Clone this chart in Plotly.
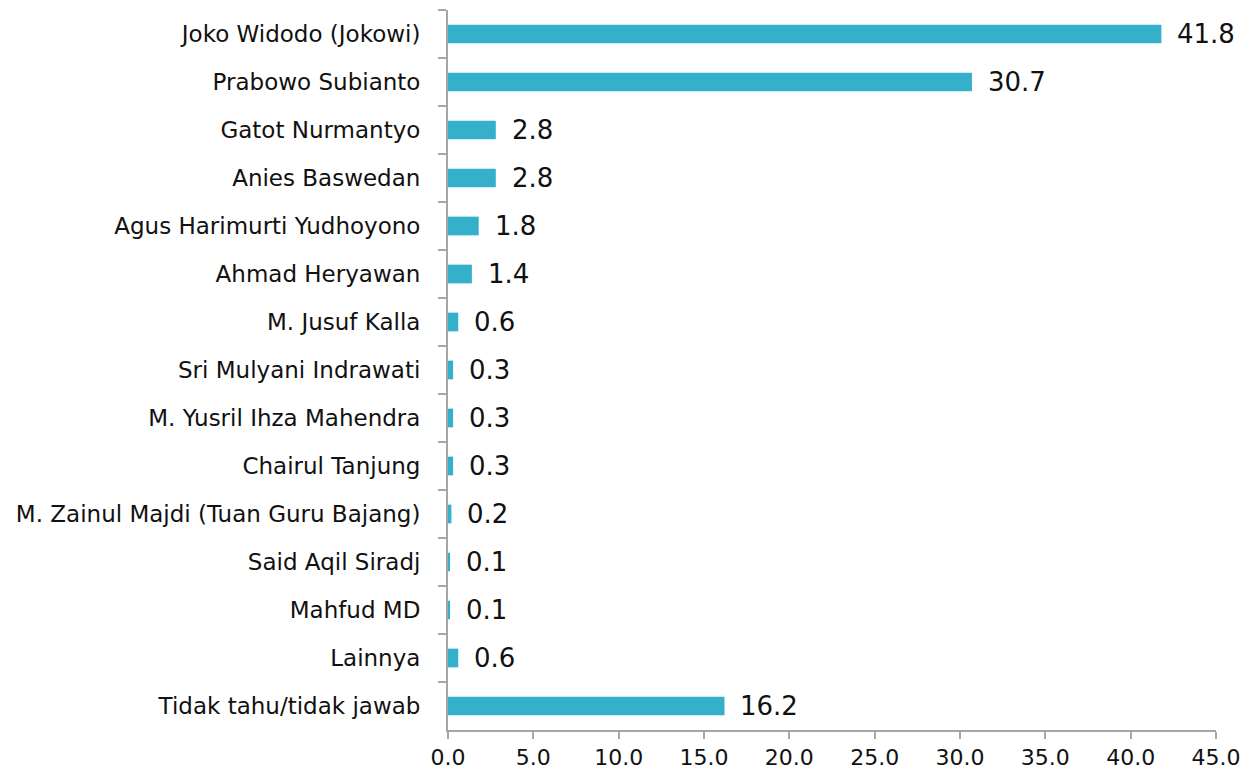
import plotly.graph_objects as go

categories = ["Joko Widodo (Jokowi)", "Prabowo Subianto", "Gatot Nurmantyo", "Anies Baswedan",
              "Agus Harimurti Yudhoyono", "Ahmad Heryawan", "M. Jusuf Kalla", "Sri Mulyani Indrawati",
              "M. Yusril Ihza Mahendra", "Chairul Tanjung", "M. Zainul Majdi (Tuan Guru Bajang)",
              "Said Aqil Siradj", "Mahfud MD", "Lainnya", "Tidak tahu/tidak jawab"]
values = [41.8, 30.7, 2.8, 2.8, 1.8, 1.4, 0.6, 0.3, 0.3, 0.3, 0.2, 0.1, 0.1, 0.6, 16.2]
x_ticks = [0, 5, 10, 15, 20, 25, 30, 35, 40, 45]

FONT = "DejaVu Sans"
fig = go.Figure()
fig.add_trace(go.Bar(
    y=categories, x=values, orientation="h",
    marker=dict(color="#35B0CB", line=dict(width=0)),
    width=0.39,
))
for c, v in zip(categories, values):
    fig.add_annotation(x=v, y=c, text=f"{v:.1f}", showarrow=False, xanchor="left",
                       xshift=14, font=dict(family=FONT, size=26, color="#111111"))

fig.update_layout(
    width=1243, height=771,
    margin=dict(l=448, r=27, t=10, b=41, autoexpand=False),
    plot_bgcolor="white", paper_bgcolor="white",
    showlegend=False,
    font=dict(family=FONT, size=23, color="#111111"),
)
fig.update_xaxes(range=[0, 45], tickvals=x_ticks, ticktext=[f"{t:.1f}" for t in x_ticks],
                 showgrid=False, zeroline=False, showline=True, linecolor="#A6A6A6", linewidth=2,
                 ticks="outside", ticklen=7, tickwidth=2, tickcolor="#A6A6A6",
                 tickfont=dict(family=FONT, size=22, color="#111111"))
fig.update_yaxes(autorange="reversed", showgrid=False, showline=True, linecolor="#A6A6A6", linewidth=2,
                 ticks="outside", tickson="boundaries", ticklen=8, tickwidth=2, tickcolor="#A6A6A6",
                 ticklabelstandoff=21,
                 tickfont=dict(family=FONT, size=23, color="#111111"))
# remove the default page margin so the figure fills the window exactly
fig.write_html("out.html", config={"displayModeBar": False},
               post_script="document.body.style.margin='0';document.body.style.overflow='hidden';")
